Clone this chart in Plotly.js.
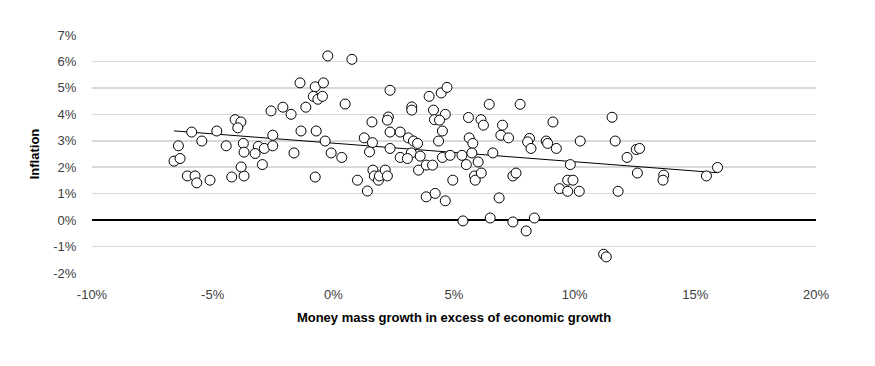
<!DOCTYPE html>
<html><head><meta charset="utf-8">
<script src="https://cdn.plot.ly/plotly-3.0.1.min.js"></script>
<style>html,body{margin:0;padding:0;background:#fff;}#chart{width:875px;height:366px;}</style>
</head><body><div id="chart"></div>
<script>
// Money mass growth in excess of economic growth (%)
var moneyGrowth = [-0.23,0.77,-1.38,-0.75,-0.41,-0.83,-0.64,-0.45,0.49,-2.58,-2.09,-1.75,-1.14,-4.07,-3.83,-3.96,-5.87,-4.83,-1.34,-0.71,
-2.51,-5.45,-0.34,-6.42,-4.44,-3.73,-3.70,-3.11,-2.86,-3.24,-2.51,-1.63,-0.09,0.35,-6.60,-6.35,-6.05,-5.73,-5.66,-5.11,
-4.21,-3.70,-3.82,-2.94,-0.75,2.35,3.97,4.47,4.71,3.25,3.25,4.15,4.64,2.28,2.24,4.19,4.40,1.60,5.60,6.46,
7.74,6.12,6.22,7.01,4.52,2.35,2.77,6.94,7.26,8.13,8.05,1.28,1.62,3.11,3.32,3.49,4.36,5.63,5.78,1.50,
2.35,3.23,3.60,2.77,3.07,4.52,4.84,5.33,5.74,6.61,5.51,6.00,1.64,1.70,1.87,1.91,2.15,2.24,1.00,1.41,
3.53,3.85,4.11,4.95,5.85,5.88,6.13,7.44,7.57,3.85,4.22,4.64,6.87,5.37,6.50,7.44,7.99,8.33,9.10,11.55,
8.19,8.82,8.88,9.24,10.23,11.68,12.17,12.55,12.69,9.82,12.60,13.69,13.66,15.46,15.92,9.71,9.93,9.37,9.71,10.19,
11.80,11.20,11.31];
// Inflation (%)
var inflation = [6.21,6.08,5.19,5.04,5.19,4.68,4.57,4.68,4.39,4.13,4.27,4.00,4.27,3.80,3.71,3.49,3.33,3.37,3.37,3.37,
3.21,2.99,2.99,2.81,2.81,2.90,2.57,2.79,2.71,2.52,2.81,2.54,2.54,2.37,2.23,2.33,1.67,1.67,1.41,1.51,
1.63,1.67,2.01,2.10,1.63,4.91,4.68,4.81,5.02,4.28,4.16,4.16,4.00,3.90,3.78,3.80,3.78,3.71,3.88,4.38,
4.38,3.80,3.59,3.59,3.37,3.33,3.33,3.21,3.11,3.09,2.96,3.11,2.93,3.11,2.99,2.90,2.99,3.11,2.90,2.58,
2.71,2.54,2.42,2.37,2.33,2.37,2.45,2.45,2.54,2.54,2.10,2.20,1.89,1.67,1.51,1.67,1.89,1.67,1.51,1.10,
1.89,2.08,2.08,1.51,1.67,1.51,1.78,1.67,1.78,0.88,1.01,0.73,0.84,-0.03,0.08,-0.07,-0.41,0.08,3.71,3.89,
2.71,2.99,2.90,2.71,2.99,2.99,2.37,2.67,2.71,2.10,1.78,1.70,1.51,1.67,1.99,1.51,1.51,1.19,1.09,1.09,
1.09,-1.29,-1.39];

var xTickVals = [-10,-5,0,5,10,15,20];
var xTickText = ["-10%","-5%","0%","5%","10%","15%","20%"];
var yTickVals = [-2,-1,0,1,2,3,4,5,6,7];
var yTickText = ["-2%","-1%","0%","1%","2%","3%","4%","5%","6%","7%"];

// Linear trendline (least squares) from the data
var n = moneyGrowth.length, sx=0, sy=0, sxx=0, sxy=0;
for (var i=0;i<n;i++){sx+=moneyGrowth[i];sy+=inflation[i];sxx+=moneyGrowth[i]*moneyGrowth[i];sxy+=moneyGrowth[i]*inflation[i];}
var slope = (n*sxy - sx*sy)/(n*sxx - sx*sx);
var icpt = (sy - slope*sx)/n;
var xMin = Math.min.apply(null, moneyGrowth), xMax = Math.max.apply(null, moneyGrowth);

var font = "Liberation Sans, Arial, sans-serif";
var traces = [
  {x:[xMin,xMax], y:[icpt+slope*xMin, icpt+slope*xMax], mode:'lines', type:'scatter',
   line:{color:'#000', width:1}, hoverinfo:'skip', showlegend:false},
  {x:moneyGrowth, y:inflation, mode:'markers', type:'scatter',
   marker:{size:10, color:'#fff', line:{color:'#000', width:1}}, showlegend:false}
];
var layout = {
  width:875, height:366,
  margin:{l:92, r:59, t:35, b:93},
  paper_bgcolor:'#fff', plot_bgcolor:'#fff',
  font:{family:font, size:13, color:'#404040'},
  xaxis:{range:[-10,20], tickvals:xTickVals, ticktext:xTickText, showgrid:false, zeroline:false,
    showline:false, ticks:'outside', ticklen:9, tickcolor:'rgba(0,0,0,0)', tickfont:{size:13, color:'#404040'},
    title:{text:'<b>Money mass growth in excess of economic growth</b>', font:{size:13, color:'#000'}, standoff:12}},
  yaxis:{range:[-2,7], tickvals:yTickVals, ticktext:yTickText, showgrid:true, gridcolor:'#d9d9d9', gridwidth:1.5,
    zeroline:true, zerolinecolor:'#000', zerolinewidth:2, showline:false, ticks:'outside', ticklen:12,
    tickcolor:'rgba(0,0,0,0)', tickfont:{size:13, color:'#404040'},
    title:{text:'<b>Inflation</b>', font:{size:13, color:'#000'}, standoff:10}}
};
Plotly.newPlot('chart', traces, layout, {displayModeBar:false, staticPlot:true});
</script></body></html>
